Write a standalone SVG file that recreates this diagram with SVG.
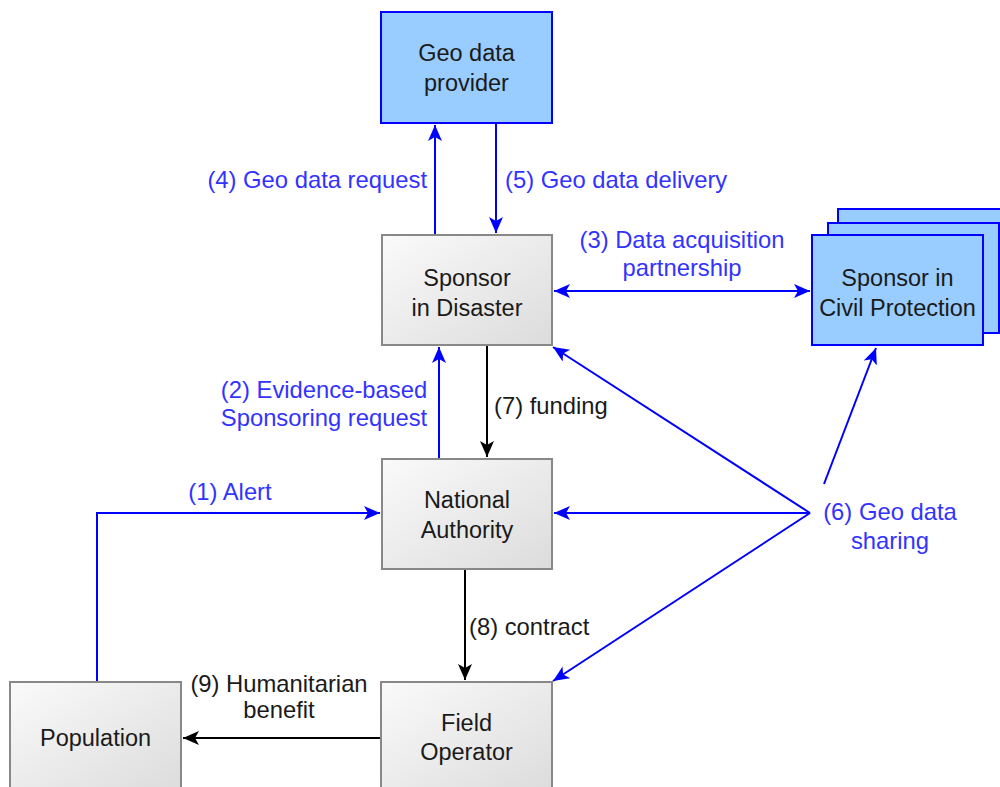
<svg xmlns="http://www.w3.org/2000/svg" width="1000" height="787" viewBox="0 0 1000 787">
<style>
.txt{font-family:"Liberation Sans",Arial,sans-serif;font-size:23.5px;fill:#1a1a1a;text-anchor:middle}
.lbl{font-family:"Liberation Sans",Arial,sans-serif;font-size:23.8px;fill:#3333ff}
.lblk{font-family:"Liberation Sans",Arial,sans-serif;font-size:23.8px;fill:#1a1a1a}
.gray{fill:url(#g);stroke:#888;stroke-width:2}
.blue{fill:#99ccff;stroke:#0000ff;stroke-width:2}
.cb{fill:none;stroke:#0000ff;stroke-width:2}
.ck{fill:none;stroke:#000;stroke-width:2}
</style>
<defs>
<linearGradient id="g" x1="0" y1="0" x2="1" y2="1">
<stop offset="0" stop-color="#fafafa"/>
<stop offset="1" stop-color="#dcdcdc"/>
</linearGradient>
<marker id="ab" markerUnits="userSpaceOnUse" markerWidth="18" markerHeight="16" refX="16" refY="7" orient="auto-start-reverse" viewBox="0 0 18 16">
<path d="M0,0 L16,7 L0,14 L4,7 Z" fill="#0000ff"/>
</marker>
<marker id="ak" markerUnits="userSpaceOnUse" markerWidth="18" markerHeight="16" refX="16" refY="7" orient="auto" viewBox="0 0 18 16">
<path d="M0,0 L16,7 L0,14 L4,7 Z" fill="#000"/>
</marker>
</defs>

<g id="connectors">
<line class="cb" x1="435" y1="235" x2="435" y2="125" marker-end="url(#ab)"/>
<line class="cb" x1="496" y1="123" x2="496" y2="233" marker-end="url(#ab)"/>
<line class="cb" x1="554" y1="291" x2="810" y2="291" marker-start="url(#ab)" marker-end="url(#ab)"/>
<line class="cb" x1="439" y1="459" x2="439" y2="347" marker-end="url(#ab)"/>
<line class="ck" x1="487" y1="345" x2="487" y2="457" marker-end="url(#ak)"/>
<polyline class="cb" points="97,682 97,513 380,513" marker-end="url(#ab)"/>
<line class="ck" x1="465" y1="569" x2="465" y2="680" marker-end="url(#ak)"/>
<line class="ck" x1="381" y1="738" x2="183" y2="738" marker-end="url(#ak)"/>
<line class="cb" x1="810" y1="513" x2="553" y2="347" marker-end="url(#ab)"/>
<line class="cb" x1="810" y1="513" x2="554" y2="513" marker-end="url(#ab)"/>
<line class="cb" x1="810" y1="513" x2="553" y2="681" marker-end="url(#ab)"/>
<line class="cb" x1="824" y1="484" x2="876" y2="348" marker-end="url(#ab)"/>
<text class="lbl" x="427" y="188" text-anchor="end">(4) Geo data request</text>
<text class="lbl" x="505" y="188">(5) Geo data delivery</text>
<text class="lbl" x="682" y="248" text-anchor="middle">(3) Data acquisition</text>
<text class="lbl" x="682" y="276" text-anchor="middle">partnership</text>
<text class="lbl" x="324" y="398" text-anchor="middle">(2) Evidence-based</text>
<text class="lbl" x="324" y="426" text-anchor="middle">Sponsoring request</text>
<text class="lblk" x="494" y="414">(7) funding</text>
<text class="lbl" x="230" y="500" text-anchor="middle">(1) Alert</text>
<text class="lbl" x="890" y="520" text-anchor="middle">(6) Geo data</text>
<text class="lbl" x="890" y="549" text-anchor="middle">sharing</text>
<text class="lblk" x="469" y="635">(8) contract</text>
<text class="lblk" x="279" y="692" text-anchor="middle">(9) Humanitarian</text>
<text class="lblk" x="279" y="718" text-anchor="middle">benefit</text>
</g>

<g id="geo-data-provider">
<rect class="blue" x="381" y="12" width="171" height="111"/>
<text class="txt" x="466.5" y="61">Geo data</text>
<text class="txt" x="466.5" y="91">provider</text>
</g>

<g id="sponsor-in-disaster">
<rect class="gray" x="382" y="235" width="170" height="110"/>
<text class="txt" x="467" y="286">Sponsor</text>
<text class="txt" x="467" y="316">in Disaster</text>
</g>

<g id="sponsor-in-civil-protection">
<rect class="blue" x="838" y="209" width="171" height="110"/>
<rect class="blue" x="828" y="223" width="171" height="110"/>
<rect class="blue" x="812" y="235" width="171" height="110"/>
<text class="txt" x="897.5" y="286">Sponsor in</text>
<text class="txt" x="897.5" y="316">Civil Protection</text>
</g>

<g id="national-authority">
<rect class="gray" x="382" y="459" width="170" height="110"/>
<text class="txt" x="467" y="508">National</text>
<text class="txt" x="467" y="538">Authority</text>
</g>

<g id="population">
<rect class="gray" x="10" y="682" width="171" height="110"/>
<text class="txt" x="95.5" y="746">Population</text>
</g>

<g id="field-operator">
<rect class="gray" x="381" y="682" width="171" height="110"/>
<text class="txt" x="466.5" y="731">Field</text>
<text class="txt" x="466.5" y="760">Operator</text>
</g>
</svg>
